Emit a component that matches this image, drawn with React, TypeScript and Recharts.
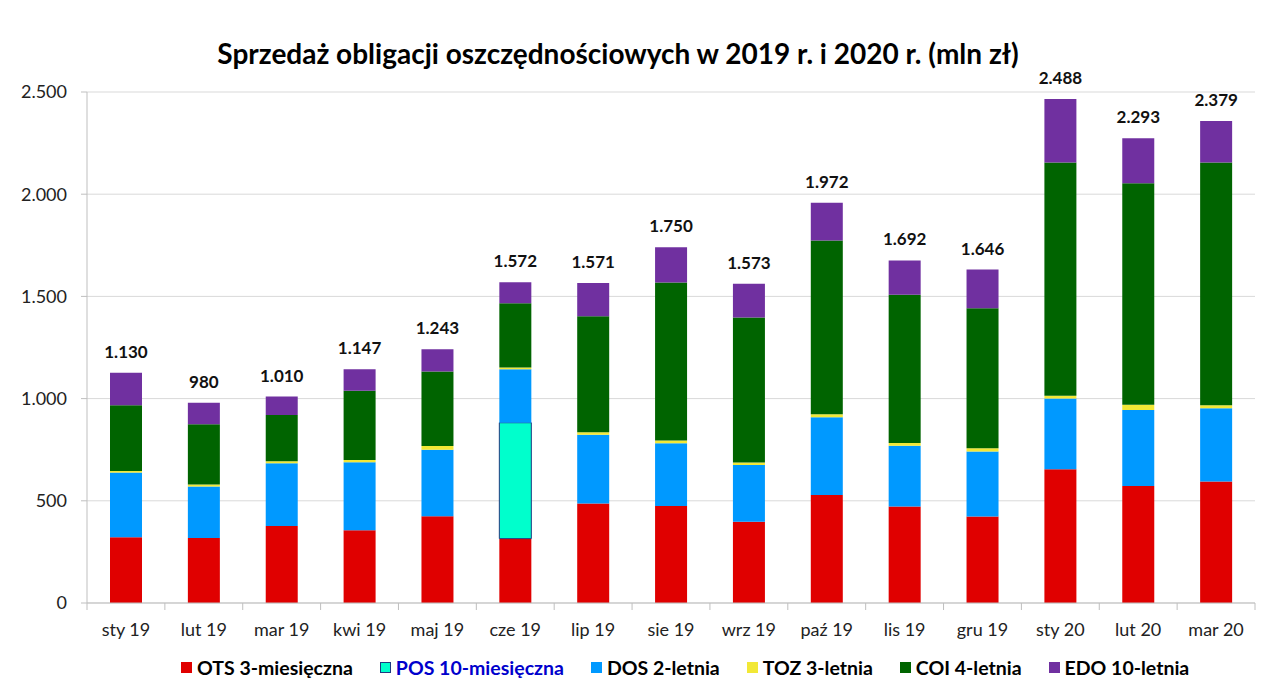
import React from "react";
import { BarChart, Bar, XAxis, YAxis, CartesianGrid, LabelList } from "recharts";

const months = [
  "sty 19", "lut 19", "mar 19", "kwi 19", "maj 19", "cze 19", "lip 19", "sie 19",
  "wrz 19", "paź 19", "lis 19", "gru 19", "sty 20", "lut 20", "mar 20",
];
const ots = [322, 318, 377, 356, 425, 315, 487, 474, 397, 528, 472, 423, 654, 572, 594];
const pos = [0, 0, 0, 0, 0, 567, 0, 0, 0, 0, 0, 0, 0, 0, 0];
const dos = [316, 252, 307, 333, 325, 262, 336, 307, 278, 381, 297, 318, 346, 372, 359];
const toz = [8, 10, 10, 10, 18, 8, 12, 14, 12, 14, 14, 16, 14, 26, 14];
const coi = [322, 295, 226, 340, 364, 315, 568, 773, 710, 851, 725, 685, 1141, 1084, 1188];
const edo = [159, 105, 90, 104, 110, 102, 162, 172, 165, 184, 168, 189, 311, 220, 203];
const totals = [1130, 980, 1010, 1147, 1243, 1572, 1571, 1750, 1573, 1972, 1692, 1646, 2488, 2293, 2379];
const yTicks = [0, 500, 1000, 1500, 2000, 2500];

const series = [
  { key: "ots", name: "OTS 3-miesięczna", color: "#e00000", text: "#000" },
  { key: "pos", name: "POS 10-miesięczna", color: "#00ffcc", text: "#0000cc" },
  { key: "dos", name: "DOS 2-letnia", color: "#0099ff", text: "#000" },
  { key: "toz", name: "TOZ 3-letnia", color: "#f2e836", text: "#000" },
  { key: "coi", name: "COI 4-letnia", color: "#006400", text: "#000" },
  { key: "edo", name: "EDO 10-letnia", color: "#7030a0", text: "#000" },
];

const data = months.map((m, i) => ({
  month: m,
  ots: ots[i],
  pos: pos[i],
  dos: dos[i],
  toz: toz[i],
  coi: coi[i],
  edo: edo[i],
}));

const FONT = "Lato, 'Open Sans', sans-serif";
const W = 1280;
const H = 698;
const MARGIN = { top: 92, right: 25, bottom: 65, left: 7 };
const Y_W = 80;
const PLOT_W = W - MARGIN.left - MARGIN.right - Y_W;
const TICK_GAP = 20;

const fmt = (n: number) => String(n).replace(/\B(?=(\d{3})+(?!\d))/g, ".");

function XTick(props: any) {
  const { x, y, payload, index } = props;
  const step = PLOT_W / months.length;
  const axisY = y - TICK_GAP;
  return (
    <g>
      <line x1={x - step / 2} x2={x - step / 2} y1={axisY} y2={axisY + 7} stroke="#bfbfbf" />
      {index === months.length - 1 && (
        <line x1={x + step / 2} x2={x + step / 2} y1={axisY} y2={axisY + 7} stroke="#bfbfbf" />
      )}
      <text x={x} y={y} dy={13} textAnchor="middle" fontSize={18} fill="#222" fontFamily={FONT}>
        {payload.value}
      </text>
    </g>
  );
}

function TotalLabel(props: any) {
  const { x, y, width, index } = props;
  return (
    <text
      x={x + width / 2}
      y={y - 15}
      textAnchor="middle"
      fontSize={17}
      fontWeight={700}
      fill="#111"
      fontFamily={FONT}
    >
      {fmt(totals[index])}
    </text>
  );
}

export default function App() {
  return (
    <div style={{ position: "absolute", left: 0, top: 0, width: W, height: H, background: "#fff", fontFamily: FONT }}>
      <div
        style={{
          position: "absolute",
          left: 0,
          width: 1236,
          top: 36,
          textAlign: "center",
          fontSize: 28,
          fontWeight: 700,
          color: "#000",
          whiteSpace: "nowrap",
        }}
      >
        Sprzedaż obligacji oszczędnościowych w 2019 r. i 2020 r. (mln zł)
      </div>
      <BarChart width={W} height={H} data={data} margin={MARGIN}>
        <CartesianGrid vertical={false} stroke="#d9d9d9" />
        <XAxis
          dataKey="month"
          stroke="#bfbfbf"
          tickLine={false}
          tickSize={0}
          tickMargin={TICK_GAP}
          interval={0}
          tick={<XTick />}
        />
        <YAxis
          width={Y_W}
          domain={[0, 2500]}
          ticks={yTicks}
          stroke="#bfbfbf"
          tickSize={6}
          tickMargin={14}
          tickFormatter={fmt}
          tick={{ fill: "#222", fontSize: 18, fontFamily: FONT }}
        />
        {series.map((s) => (
          <Bar
            key={s.key}
            dataKey={s.key}
            name={s.name}
            stackId="a"
            fill={s.color}
            barSize={32}
            stroke={s.key === "pos" ? "#1f3a80" : undefined}
            strokeWidth={s.key === "pos" ? 1 : 0}
            isAnimationActive={false}
          >
            {s.key === "edo" && <LabelList dataKey="edo" content={<TotalLabel />} />}
          </Bar>
        ))}
      </BarChart>
      <div
        style={{
          position: "absolute",
          left: 181,
          top: 656,
          display: "flex",
          alignItems: "center",
          gap: 27,
          fontSize: 19.5,
          fontWeight: 700,
          whiteSpace: "nowrap",
        }}
      >
        {series.map((s) => (
          <div key={s.key} style={{ display: "flex", alignItems: "center", gap: 5, color: s.text }}>
            <span
              style={{
                width: 11,
                height: 11,
                background: s.color,
                border: s.key === "pos" ? "1px solid #1f3a80" : "none",
                boxSizing: "border-box",
                display: "inline-block",
              }}
            />
            <span>{s.name}</span>
          </div>
        ))}
      </div>
    </div>
  );
}
